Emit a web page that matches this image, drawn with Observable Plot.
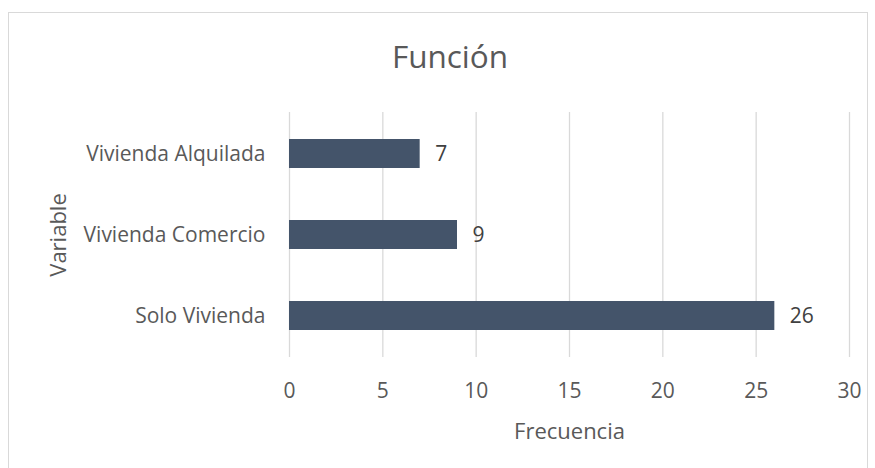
<!DOCTYPE html>
<html><head><meta charset="utf-8">
<script src="https://cdn.jsdelivr.net/npm/d3@7"></script>
<script src="https://cdn.jsdelivr.net/npm/@observablehq/plot@0.6"></script>
<style>
body{margin:0;background:#fff;}
#wrap{position:relative;width:875px;height:468px;overflow:hidden;font-family:"Open Sans",sans-serif;}
#frame{position:absolute;left:8px;top:12px;width:860px;height:470px;border:1px solid #d9d9d9;box-sizing:border-box;}
#title{position:absolute;left:250px;width:400px;top:34px;text-align:center;font-size:31.5px;color:#595959;line-height:normal;}
#chart{position:absolute;left:0;top:0;}
</style></head>
<body><div id="wrap"><div id="frame"></div><div id="title">Función</div><div id="chart"></div></div>
<script>
const categories = ["Vivienda Alquilada", "Vivienda Comercio", "Solo Vivienda"];
const values = [7, 9, 26];
const xTicks = [0, 5, 10, 15, 20, 25, 30];
const data = categories.map((c, i) => ({category: c, value: values[i]}));

const plot = Plot.plot({
  width: 875, height: 468,
  marginTop: 112, marginBottom: 111, marginLeft: 289, marginRight: 26,
  style: {fontFamily: "Open Sans, sans-serif", fontSize: "21px", color: "#595959", background: "transparent", overflow: "visible"},
  x: {domain: [0, 30], ticks: xTicks},
  y: {domain: categories, paddingInner: 0.645, paddingOuter: 0.3225},
  marks: [
    Plot.gridX(xTicks, {stroke: "#d9d9d9", strokeOpacity: 1, strokeWidth: 1.3}),
    Plot.barX(data, {x: "value", y: "category", fill: "#44546A"}),
    Plot.text(data, {x: "value", y: "category", text: d => String(d.value), textAnchor: "start", dx: 15, fill: "#404040", fontSize: 21}),
    Plot.axisX({ticks: xTicks, tickSize: 0, tickPadding: 26, label: "Frecuencia", labelAnchor: "center", labelArrow: "none", labelOffset: 81, fontSize: 21}),
    Plot.axisY({tickSize: 0, tickPadding: 24, label: "Variable", labelAnchor: "center", labelArrow: "none", labelOffset: 239, fontSize: 21})
  ]
});
plot.querySelectorAll("[aria-label='x-axis label'] text, [aria-label='y-axis label'] text").forEach(t => t.setAttribute("font-size", "22px"));
document.getElementById("chart").appendChild(plot);
</script></body></html>
